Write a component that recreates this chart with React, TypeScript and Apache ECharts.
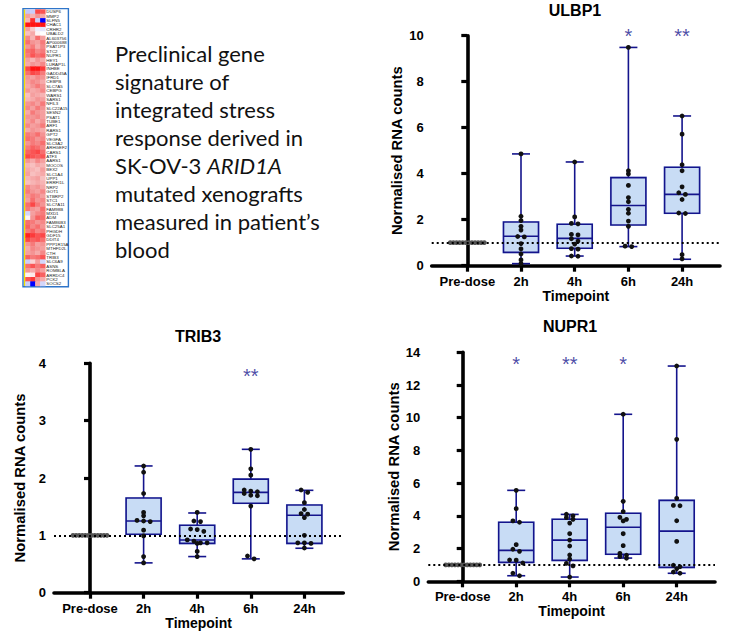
import React, { useEffect, useRef } from 'react';
import * as echarts from 'echarts';

// ---------- DATA ----------
const timepoints = ['Pre-dose', '2h', '4h', '6h', '24h'];

const ulbp1Points = [
  [1, 1, 1, 1, 1, 1, 1, 1, 1, 1, 1, 1],
  [4.86, 2.15, 1.96, 1.71, 1.55, 1.27, 1.25, 0.96, 0.73, 0.51, 0.25, 0.09],
  [4.51, 2.12, 1.84, 1.82, 1.36, 1.34, 1.17, 1.07, 0.94, 0.74, 0.72, 0.42, 0.41],
  [9.49, 4.13, 3.99, 3.49, 2.96, 2.78, 2.45, 2.28, 1.94, 1.71, 0.85, 0.83],
  [6.51, 5.72, 4.39, 4.13, 3.43, 3.17, 3.1, 2.88, 2.29, 2.27, 0.48, 0.3],
];
// [min, Q1, median, Q3, max] for 2h, 4h, 6h, 24h
const ulbp1Boxes = [
  [0.09, 0.58, 1.28, 1.9, 4.86],
  [0.42, 0.76, 1.19, 1.8, 4.51],
  [0.83, 1.77, 2.62, 3.83, 9.49],
  [0.28, 2.28, 3.1, 4.28, 6.51],
];
const ulbp1Stars = ['', '', '', '*', '**'];

const trib3Points = [
  [1, 1, 1, 1, 1, 1, 1, 1, 1, 1, 1, 1],
  [2.21, 2.1, 1.73, 1.4, 1.34, 1.26, 1.25, 1.24, 1.09, 0.99, 0.63, 0.52],
  [1.4, 1.25, 1.24, 1.11, 1.1, 1.07, 0.92, 0.9, 0.87, 0.87, 0.86, 0.72, 0.63],
  [2.5, 2.16, 2.05, 1.79, 1.77, 1.76, 1.73, 1.7, 1.69, 1.51, 0.64, 0.59],
  [1.79, 1.75, 1.57, 1.45, 1.38, 1.37, 1.31, 1.0, 0.87, 0.87, 0.86, 0.78],
];
const trib3Boxes = [
  [0.52, 1.02, 1.25, 1.65, 2.21],
  [0.63, 0.86, 0.92, 1.175, 1.39],
  [0.59, 1.56, 1.75, 1.98, 2.5],
  [0.775, 0.86, 1.35, 1.53, 1.785],
];
const trib3Stars = ['', '', '', '**', ''];

const nupr1Points = [
  [1, 1, 1, 1, 1, 1, 1, 1, 1, 1, 1, 1],
  [5.56, 4.44, 3.69, 3.61, 2.24, 1.96, 1.83, 1.3, 1.29, 1.12, 0.49, 0.34],
  [4.1, 4.0, 3.89, 3.79, 3.56, 2.91, 2.52, 2.16, 1.61, 1.36, 1.1, 0.94, 0.26],
  [10.21, 4.89, 4.26, 3.91, 3.79, 3.69, 2.91, 2.18, 1.71, 1.59, 1.51, 1.41],
  [13.16, 8.68, 5.07, 4.64, 4.62, 3.7, 2.44, 0.98, 0.89, 0.77, 0.57, 0.49],
];
const nupr1Boxes = [
  [0.34, 1.16, 1.89, 3.61, 5.56],
  [0.26, 1.28, 2.52, 3.79, 4.09],
  [1.42, 1.65, 3.3, 4.16, 10.21],
  [0.49, 0.85, 3.07, 4.95, 13.16],
];
const nupr1Stars = ['', '*', '**', '*', ''];

const baselineValue = 1;

const genes = [
  'DUSP6', 'MMP2', 'SLFN5', 'CHAC1', 'CRHR2', 'UBALD2', 'AL603756', 'AP000688', 'PSAT1P3', 'STC2',
  'NUPR1', 'HEY1', 'LURAP1L', 'INHBE', 'GADD45A', 'IFRD1', 'CEBPB', 'SLC7A5', 'CEBPG', 'WARS1',
  'SARS1', 'NFIL3', 'SLC22A15', 'SESN2', 'PSAT1', 'TUBE1', 'ARF1', 'RARS1', 'GPT2', 'VEGFA',
  'SLC3A2', 'ARHGEF2', 'CARS1', 'ATF3', 'AARS1', 'MOCOS', 'BEX2', 'SLC1A4', 'UPP1', 'ERRFI1L',
  'NRP2', 'GOT1', 'STBRP2', 'STC1', 'SLC7A11', 'FAM98B', 'MXD1', 'ADM', 'FAM86B3', 'SLC25A1',
  'PHGDH', 'GDF15', 'DDIT4', 'PPP1R15A', 'MTHFD2L', 'CTH', 'TRIB3', 'SLC6A9', 'ASNS', 'ROMBLA',
  'ARRDC4', 'PCK2', 'SOCS2',
];
const heatValues = [
  [-0.7, -0.6, 1.6, 1.5], [0.9, 0.7, 1.0, 0.8], [0.7, 1.8, -0.6, -2.0], [2.0, 2.0, 2.0, 2.0],
  [0.9, 0.5, -0.2, -0.3], [0.6, 0.8, 0.1, 0.0], [1.1, 0.7, 1.3, 0.9], [1.3, 1.0, 0.9, 1.2],
  [1.0, 1.2, 0.8, 1.1], [1.3, 1.4, 1.1, 1.2], [1.2, 1.5, 1.3, 1.4], [0.9, 0.7, 1.0, 0.8],
  [0.8, 1.0, 0.9, 1.1], [1.6, 2.0, 2.0, 1.7], [1.3, 1.6, 1.5, 1.2], [1.0, 0.9, 1.1, 1.0],
  [0.9, 1.1, 1.0, 0.8], [0.8, 1.0, 1.2, 1.0], [1.0, 0.8, 0.9, 1.1], [0.6, 0.9, 0.8, 0.7],
  [0.7, 0.8, 1.0, 0.9], [1.0, 1.1, 0.9, 1.2], [1.1, 0.9, 1.2, 1.0], [0.8, 1.2, 1.0, 0.9],
  [1.0, 1.0, 1.1, 0.9], [0.9, 1.1, 0.8, 1.0], [1.1, 0.9, 1.0, 1.2], [0.8, 1.0, 0.9, 0.8],
  [1.2, 1.1, 1.3, 1.0], [1.3, 1.2, 1.0, 1.1], [1.0, 1.2, 1.1, 1.3], [1.2, 1.4, 1.3, 1.1],
  [1.4, 1.5, 1.6, 1.3], [1.6, 1.5, 1.4, 1.5], [1.0, 0.8, 1.1, 0.9], [0.7, 0.6, 0.8, 0.7],
  [0.8, 0.7, 0.6, 0.9], [0.9, 0.6, 0.7, 0.8], [0.7, 0.8, 0.9, 0.6], [0.6, 0.7, 0.8, 0.7],
  [1.1, 0.9, 1.0, 0.8], [1.2, 1.0, 0.9, 1.1], [1.0, 1.2, 1.1, 0.9], [0.9, 1.3, 1.0, 1.1],
  [1.3, 1.6, 1.2, 1.0], [1.2, 1.0, 0.9, 1.3], [-0.5, 0.9, 1.1, 1.2], [0.1, 1.0, 1.4, 1.3],
  [1.3, 1.2, 1.0, 1.1], [1.4, 1.1, 1.3, 1.0], [1.2, 1.4, 1.1, 1.2], [1.9, 1.7, 1.5, 1.6],
  [1.6, 1.4, 1.5, 1.3], [1.0, 1.2, 0.9, 1.0], [0.8, 1.1, 1.0, 0.9], [0.9, 1.0, 0.8, 1.1],
  [1.4, 1.2, 1.3, 1.5], [-0.6, 0.4, 0.9, -0.5], [1.3, 1.5, 1.2, 1.4], [1.0, 0.8, 1.1, 0.9],
  [0.1, 0.2, 1.6, 1.4], [1.5, 1.7, 1.0, 0.8], [-0.6, -2.0, 0.8, -0.5],
];
const heatColumns = ['s1', 's2', 's3', 's4'];

const paragraphLines = [
  'Preclinical gene',
  'signature of',
  'integrated stress',
  'response derived in',
  'SK-OV-3 {i|ARID1A}',
  'mutated xenografts',
  'measured in patient\u2019s',
  'blood',
];

// ---------- STYLE / LAYOUT ----------
const FONT = 'Liberation Sans';
const NAVY = '#14148c';
const BOX_FILL = '#c8dcf5';

const panels = [
  {
    title: 'ULBP1', points: ulbp1Points, boxes: ulbp1Boxes, stars: ulbp1Stars, starY: 10.0,
    yMax: 10, yInterval: 2, grid: { left: 431.7, top: 35.7, width: 288.3, height: 230 },
    xMin: -0.663, xMax: 4.706, titleX: 575, titleY: 10,
  },
  {
    title: 'TRIB3', points: trib3Points, boxes: trib3Boxes, stars: trib3Stars, starY: 3.78,
    yMax: 4, yInterval: 1, grid: { left: 54, top: 363.3, width: 289.3, height: 229.4 },
    xMin: -0.672, xMax: 4.726, titleX: 198, titleY: 336,
  },
  {
    title: 'NUPR1', points: nupr1Points, boxes: nupr1Boxes, stars: nupr1Stars, starY: 13.28,
    yMax: 14, yInterval: 2, grid: { left: 428.3, top: 352.3, width: 286.7, height: 229 },
    xMin: -0.643, xMax: 4.716, titleX: 570, titleY: 326,
  },
];

function swarm(values: number[], pxPerUnit: number, D = 6.6, maxHalf = 17, rowTol = 3.2) {
  const idx = values.map((_, i) => i).sort((a, b) => values[b] - values[a]);
  const offsets = new Array(values.length).fill(0);
  let k = 0;
  while (k < idx.length) {
    const startPx = values[idx[k]] * pxPerUnit;
    let j = k;
    while (j + 1 < idx.length && startPx - values[idx[j + 1]] * pxPerUnit < rowTol) j++;
    const n = j - k + 1;
    let step = D;
    if (n > 1 && ((n - 1) * step) / 2 > maxHalf) step = (2 * maxHalf) / (n - 1);
    for (let m = 0; m < n; m++) offsets[idx[k + m]] = (m - (n - 1) / 2) * step;
    k = j + 1;
  }
  return offsets;
}

const renderBox = (params: any, api: any) => {
  const x = api.value(0);
  const p = (v: number) => api.coord([x, v]);
  const cx = p(api.value(1))[0];
  const yMin = p(api.value(1))[1];
  const yQ1 = p(api.value(2))[1];
  const yMed = p(api.value(3))[1];
  const yQ3 = p(api.value(4))[1];
  const yMx = p(api.value(5))[1];
  const bw = 35;
  const cw = 18;
  const ls = { stroke: NAVY, lineWidth: 1.6 };
  return {
    type: 'group',
    children: [
      { type: 'rect', shape: { x: cx - bw / 2 - 1, y: yQ3 - 1, width: bw + 2, height: yQ1 - yQ3 + 2 }, style: { fill: BOX_FILL } },
      { type: 'rect', shape: { x: cx - bw / 2, y: yQ3, width: bw, height: yQ1 - yQ3 }, style: { fill: 'none', stroke: NAVY, lineWidth: 1.6 } },
      { type: 'line', shape: { x1: cx, y1: yMx, x2: cx, y2: yQ3 }, style: ls },
      { type: 'line', shape: { x1: cx, y1: yQ1, x2: cx, y2: yMin }, style: ls },
      { type: 'line', shape: { x1: cx - cw / 2, y1: yMx, x2: cx + cw / 2, y2: yMx }, style: ls },
      { type: 'line', shape: { x1: cx - cw / 2, y1: yMin, x2: cx + cw / 2, y2: yMin }, style: ls },
      { type: 'line', shape: { x1: cx - bw / 2, y1: yMed, x2: cx + bw / 2, y2: yMed }, style: ls },
    ],
  };
};

function buildOption() {
  const grid: any[] = [];
  const xAxis: any[] = [];
  const yAxis: any[] = [];
  const series: any[] = [];
  const graphic: any[] = [];

  panels.forEach((pn, k) => {
    grid.push({ ...pn.grid, containLabel: false, outerBoundsMode: 'none' });
    xAxis.push({
      gridIndex: k, type: 'value', min: pn.xMin, max: pn.xMax,
      name: 'Timepoint', nameLocation: 'middle', nameGap: 21,
      nameTextStyle: { fontFamily: FONT, fontWeight: 'bold', fontSize: 14, color: '#000' },
      axisLine: { show: true, onZero: false, lineStyle: { color: '#000', width: 3.6 } },
      axisTick: { show: true, length: 6, customValues: [0, 1, 2, 3, 4], lineStyle: { color: '#000', width: 3.2 } },
      axisLabel: {
        customValues: [0, 1, 2, 3, 4], margin: 9,
        formatter: (v: number) => timepoints[Math.round(v)] ?? '',
        fontFamily: FONT, fontWeight: 'bold', fontSize: 13, color: '#000',
      },
      splitLine: { show: false },
    });
    yAxis.push({
      gridIndex: k, type: 'value', min: 0, max: pn.yMax, interval: pn.yInterval,
      name: 'Normalised RNA counts', nameLocation: 'middle', nameGap: 27, nameRotate: 90,
      nameTextStyle: { fontFamily: FONT, fontWeight: 'bold', fontSize: 14.8, color: '#000' },
      axisLine: { show: true, lineStyle: { color: '#000', width: 3.6 } },
      axisTick: { show: true, length: 6, lineStyle: { color: '#000', width: 3.2 } },
      axisLabel: { margin: 8, fontFamily: FONT, fontWeight: 'bold', fontSize: 13, color: '#000' },
      splitLine: { show: false },
    });

    const pxPerUnit = pn.grid.height / pn.yMax;
    series.push({
      type: 'custom', xAxisIndex: k, yAxisIndex: k, z: 2,
      renderItem: renderBox,
      encode: { x: 0, y: [1, 2, 3, 4, 5] },
      data: pn.boxes.map((b, i) => [i + 1, ...b]),
    });

    const ptData: any[] = [];
    pn.points.forEach((vals, gi) => {
      const offs = swarm(vals, pxPerUnit);
      vals.forEach((v, j) => ptData.push({
        value: [gi, v], symbolOffset: [offs[j], 0],
        itemStyle: gi === 0 ? { color: '#555' } : undefined,
      }));
    });
    series.push({
      type: 'scatter', xAxisIndex: k, yAxisIndex: k, z: 4, clip: false,
      symbol: 'circle', symbolSize: 4.8,
      itemStyle: { color: '#111', opacity: 1 },
      data: ptData,
      markLine: {
        silent: true, symbol: ['none', 'none'], label: { show: false },
        lineStyle: { color: '#000', width: 2.2, type: [2, 3] },
        data: [{ yAxis: baselineValue }],
      },
    });

    series.push({
      type: 'scatter', xAxisIndex: k, yAxisIndex: k, z: 5, clip: false,
      symbol: 'circle', symbolSize: 1, itemStyle: { color: 'rgba(0,0,0,0)' },
      data: pn.stars.map((s, i) => (s ? { value: [i, pn.starY], name: s } : null)).filter(Boolean),
      label: {
        show: true, position: 'inside', formatter: '{b}',
        fontFamily: FONT, fontSize: 20, color: '#1a1a90',
      },
    });

    graphic.push({
      type: 'text', x: pn.titleX, y: pn.titleY,
      style: {
        text: pn.title, fontFamily: FONT, fontWeight: 'bold', fontSize: 16, fill: '#000',
        align: 'center', verticalAlign: 'middle', textAlign: 'center', textVerticalAlign: 'middle',
      },
    });
  });

  // heatmap thumbnail
  const hk = panels.length;
  grid.push({ left: 25.5, top: 9.6, width: 19.8, height: 276.4, containLabel: false, outerBoundsMode: 'none' });
  xAxis.push({ gridIndex: hk, type: 'category', data: heatColumns, show: false });
  yAxis.push({
    gridIndex: hk, type: 'category', data: genes, inverse: true, position: 'right',
    axisLine: { show: false }, axisTick: { show: false }, splitLine: { show: false },
    axisLabel: { interval: 0, fontSize: 4.4, margin: 1, color: '#222', fontFamily: FONT },
  });
  const heatData: any[] = [];
  heatValues.forEach((row, r) => row.forEach((v, c) => heatData.push([c, r, v])));
  const heatIndex = series.length;
  series.push({
    type: 'heatmap', xAxisIndex: hk, yAxisIndex: hk, data: heatData,
    itemStyle: { borderWidth: 0 }, emphasis: { disabled: true },
  });

  graphic.push(
    { type: 'rect', shape: { x: 23.9, y: 9.6, width: 1.7, height: 276.4 }, style: { fill: '#f0df00' } },
    { type: 'rect', shape: { x: 23, y: 8.6, width: 45.4, height: 278.2 }, style: { fill: 'none', stroke: '#2e75c9', lineWidth: 1.4 } },
    {
      type: 'text', x: 115, y: 39,
      style: {
        text: paragraphLines.join('\n'), fontFamily: 'Lato', fontSize: 22, fill: '#111', lineHeight: 28,
        rich: { i: { fontFamily: 'Lato', fontSize: 22, fontStyle: 'italic', fill: '#111', lineHeight: 28 } },
      },
    },
  );

  return {
    animation: false,
    backgroundColor: '#fff',
    grid, xAxis, yAxis, series, graphic,
    visualMap: {
      type: 'continuous', show: false, min: -2, max: 2, dimension: 2, seriesIndex: heatIndex,
      inRange: { color: ['#0000ff', '#a9acf4', '#ffffff', '#f49494', '#ff1414'] },
    },
  };
}

export default function App() {
  const ref = useRef<HTMLDivElement>(null);
  useEffect(() => {
    if (!ref.current) return;
    const chart = echarts.init(ref.current, undefined, { renderer: 'svg' });
    chart.setOption(buildOption() as any);
    return () => chart.dispose();
  }, []);
  return (
    <div
      ref={ref}
      style={{ position: 'fixed', left: 0, top: 0, width: 739, height: 637, background: '#fff' }}
    />
  );
}
